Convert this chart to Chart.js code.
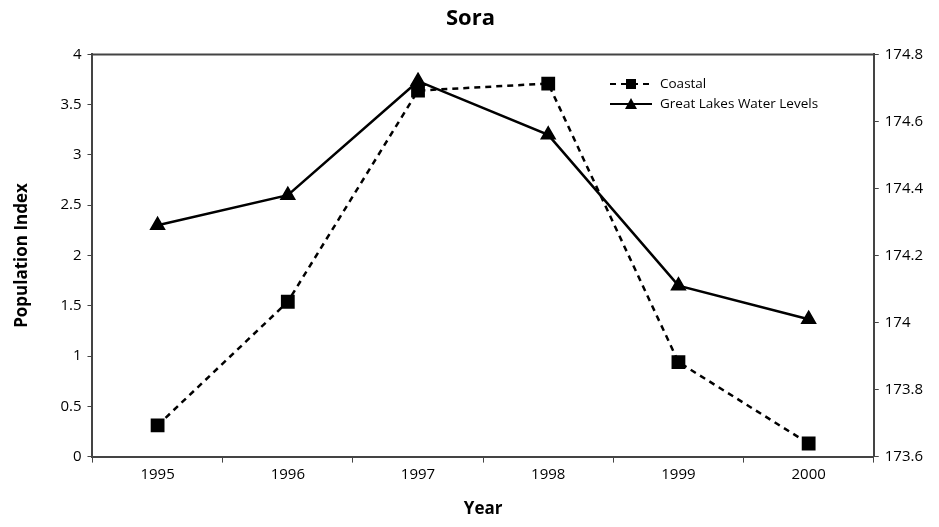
<!DOCTYPE html>
<html>
<head>
<meta charset="utf-8">
<script src="https://cdn.jsdelivr.net/npm/chart.js@4/dist/chart.umd.min.js"></script>
<style>
  html, body { margin: 0; padding: 0; background: #fff; }
  #wrap { width: 939px; height: 527px; }
</style>
</head>
<body>
<div id="wrap"><canvas id="soraChart"></canvas></div>
<script>
// data
const years = ["1995", "1996", "1997", "1998", "1999", "2000"];
const coastal = [0.31, 1.54, 3.64, 3.71, 0.94, 0.13];
const waterLevels = [174.29, 174.38, 174.72, 174.56, 174.11, 174.01];
const seriesNames = ["Coastal", "Great Lakes Water Levels"];

const axisColor = "#444";
const fontFam = "'Open Sans', 'DejaVu Sans', sans-serif";

// top edge of the plot box + the legend inside the plot
const boxAndLegend = {
  id: "boxAndLegend",
  afterDraw(chart) {
    const ctx = chart.ctx;
    const a = chart.chartArea;
    ctx.save();
    ctx.strokeStyle = axisColor;
    ctx.lineWidth = 2;
    ctx.beginPath();
    ctx.moveTo(a.left, a.top);
    ctx.lineTo(a.right, a.top);
    ctx.stroke();

    // legend
    const lx = 610, rows = [84, 104];
    ctx.font = "13.5px " + fontFam;
    ctx.textBaseline = "middle";
    chart.data.datasets.forEach((ds, i) => {
      const y = rows[i];
      ctx.strokeStyle = "#000";
      ctx.lineWidth = 2;
      ctx.setLineDash(ds.borderDash || []);
      ctx.beginPath();
      ctx.moveTo(lx, y);
      ctx.lineTo(lx + 42, y);
      ctx.stroke();
      ctx.setLineDash([]);
      ctx.fillStyle = "#000";
      const cx = lx + 21;
      if (ds.pointStyle === "rect") {
        ctx.fillRect(cx - 5, y - 5, 10, 10);
      } else {
        ctx.beginPath();
        ctx.moveTo(cx, y - 6);
        ctx.lineTo(cx + 6, y + 5);
        ctx.lineTo(cx - 6, y + 5);
        ctx.closePath();
        ctx.fill();
      }
      ctx.fillStyle = "#000";
      ctx.fillText(ds.label, lx + 50, y);
    });
    ctx.restore();
  }
};

new Chart(document.getElementById("soraChart").getContext("2d"), {
  type: "line",
  data: {
    labels: years,
    datasets: [{
      label: seriesNames[0],
      data: coastal,
      yAxisID: "y",
      borderColor: "#000",
      backgroundColor: "#000",
      borderWidth: 2.5,
      borderDash: [6, 5],
      pointStyle: "rect",
      pointRadius: 8,
      pointHoverRadius: 8,
      fill: false,
      tension: 0
    }, {
      label: seriesNames[1],
      data: waterLevels,
      yAxisID: "y1",
      borderColor: "#000",
      backgroundColor: "#000",
      borderWidth: 2.5,
      pointStyle: "triangle",
      pointRadius: 7,
      pointHoverRadius: 7,
      fill: false,
      tension: 0
    }]
  },
  options: {
    responsive: true,
    maintainAspectRatio: false,
    animation: false,
    layout: { padding: { top: 0, right: 10, bottom: 8, left: 12 } },
    plugins: {
      legend: { display: false },
      tooltip: { enabled: false },
      title: {
        display: true,
        text: "Sora",
        color: "#000",
        font: { family: fontFam, size: 22, weight: "bold" },
        padding: { top: 6, bottom: 22 }
      }
    },
    scales: {
      x: {
        offset: true,
        grid: { display: true, drawOnChartArea: false, color: axisColor, tickLength: 6, offset: true },
        border: { color: axisColor, width: 2 },
        ticks: { color: "#000", font: { family: fontFam, size: 15 }, padding: 3 },
        title: {
          display: true, text: "Year", color: "#000",
          font: { family: fontFam, size: 17, weight: "bold" },
          padding: { top: 12, bottom: 0 }
        }
      },
      y: {
        position: "left",
        min: 0, max: 4,
        ticks: {
          stepSize: 0.5, color: "#000", font: { family: fontFam, size: 15 }, padding: 6,
          callback: v => parseFloat(v.toFixed(1)).toString()
        },
        grid: { display: true, drawOnChartArea: false, color: axisColor, tickLength: 5 },
        border: { color: axisColor, width: 2 },
        title: {
          display: true, text: "Population Index", color: "#000",
          font: { family: fontFam, size: 17, weight: "bold" },
          padding: { top: 0, bottom: 22 }
        }
      },
      y1: {
        position: "right",
        min: 173.6, max: 174.8,
        ticks: {
          stepSize: 0.2, color: "#000", font: { family: fontFam, size: 15 }, padding: 6,
          callback: v => parseFloat(v.toFixed(1)).toString()
        },
        grid: { display: true, drawOnChartArea: false, color: axisColor, tickLength: 5 },
        border: { color: axisColor, width: 2 }
      }
    }
  },
  plugins: [boxAndLegend]
});
</script>
</body>
</html>
